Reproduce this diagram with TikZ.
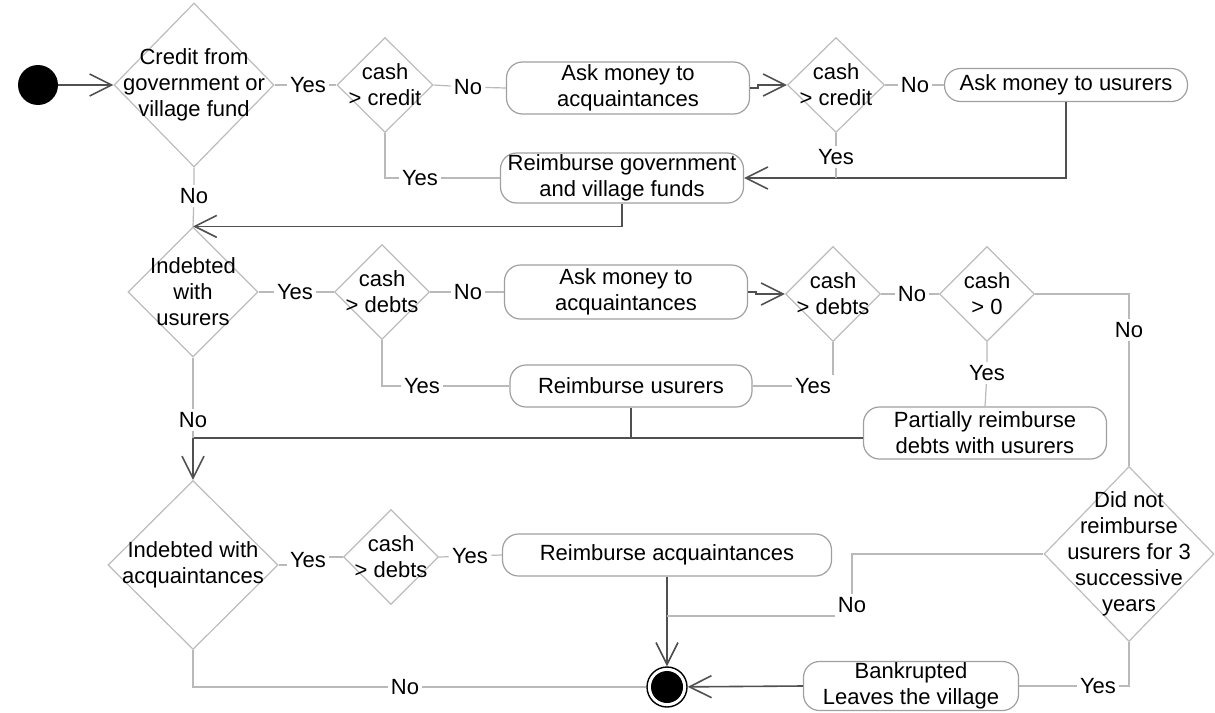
\documentclass[tikz,border=0pt]{standalone}
\usepackage{fontspec}
\setmainfont{Liberation Sans}
\usepackage{tikz}
\usetikzlibrary{shapes.geometric, arrows.meta}
\definecolor{diagray}{RGB}{188,188,188}
\definecolor{boxgray}{RGB}{160,160,160}
\definecolor{linegray}{RGB}{185,185,185}
\definecolor{arrowgray}{RGB}{80,80,80}
\tikzstyle{activity} = [rectangle, rounded corners=8pt, align=center, draw=boxgray, line width=0.6pt, inner sep=0pt]
\tikzstyle{arrow} = [draw=arrowgray, line width=0.8pt, -{Straight Barb[length=11pt,width=11pt]}]
\tikzset{
  decision/.style={diamond, draw=diagray, line width=0.6pt, inner sep=0pt},
  answer/.style={inner sep=1.5pt},
  branch/.style={draw=linegray, line width=0.6pt},
  pathline/.style={draw=arrowgray, line width=0.8pt}
}
\begin{document}
\begin{tikzpicture}[x=0.5pt, y=-0.5pt, font=\fontsize{11}{13}\selectfont]
    \useasboundingbox (0,0) rectangle (1215,712);
    % nodes
    \node (Start) [circle, fill=black, minimum size=20pt, inner sep=0pt] at (38,85) {};
    \node (CreditFund) [decision, minimum width=80pt, minimum height=82pt, label={[align=center]center:Credit from\\government or\\village fund}] at (194,85) {};
    \node (CashCredit1) [decision, minimum width=48pt, minimum height=47.5pt, label={[align=center]center:cash\\> credit}] at (385,85) {};
    \node (AskAcq1) [activity, minimum width=121.5pt, minimum height=26pt] at (628,88) {Ask money to\\acquaintances};
    \node (CashCredit2) [decision, minimum width=48.5pt, minimum height=47.5pt, label={[align=center]center:cash\\> credit}] at (836,85) {};
    \node (AskUsurers) [activity, minimum width=121.5pt, minimum height=16.5pt] at (1066,85) {Ask money to usurers};
    \node (ReimbFunds) [activity, minimum width=121.5pt, minimum height=25pt] at (622,178) {Reimburse government\\and village funds};
    \node (IndebtedUsurers) [decision, minimum width=65pt, minimum height=65pt, label={[align=center]center:Indebted\\with\\usurers}] at (193,292) {};
    \node (CashDebts1) [decision, minimum width=47.5pt, minimum height=47.5pt, label={[align=center]center:cash\\> debts}] at (382,292) {};
    \node (AskAcq2) [activity, minimum width=121.5pt, minimum height=27pt] at (626,292) {Ask money to\\acquaintances};
    \node (CashDebts2) [decision, minimum width=47.5pt, minimum height=47.5pt, label={[align=center]center:cash\\> debts}] at (833,294) {};
    \node (CashZero) [decision, minimum width=47.5pt, minimum height=47.5pt, label={[align=center]center:cash\\> 0}] at (987,294) {};
    \node (ReimbUsurers) [activity, minimum width=121pt, minimum height=21pt] at (631,386) {Reimburse usurers};
    \node (PartialReimb) [activity, minimum width=121.5pt, minimum height=26pt] at (985,433) {Partially reimburse\\debts with usurers};
    \node (IndebtedAcq) [decision, minimum width=85pt, minimum height=84.5pt, label={[align=center]center:Indebted with\\acquaintances}] at (193,565) {};
    \node (CashDebts3) [decision, minimum width=47.5pt, minimum height=47.5pt, label={[align=center]center:cash\\> debts}] at (391,557) {};
    \node (ReimbAcq) [activity, minimum width=164.5pt, minimum height=21pt] at (667,555) {Reimburse acquaintances};
    \node (NoReimb3) [decision, minimum width=85pt, minimum height=87.5pt, label={[align=center]center:Did not\\reimburse\\usurers for 3\\successive\\years}] at (1129,554) {};
    \node (Bankrupt) [activity, minimum width=107.5pt, minimum height=24.5pt] at (911,686) {Bankrupted\\Leaves the village};
    \node (End) [circle, draw=black, line width=0.7pt, minimum size=20pt, inner sep=0pt] at (667,687) {};
    \fill (End.center) circle (8pt);
    % answers
    \node (Yes1) [answer] at (308,85) {Yes};
    \node (No1)  [answer] at (468,87) {No};
    \node (No2)  [answer] at (915,85) {No};
    \node (Yes2) [answer] at (420,178) {Yes};
    \node (Yes3) [answer] at (836,157) {Yes};
    \node (No3)  [answer] at (194,196) {No};
    \node (Yes4) [answer] at (295,292) {Yes};
    \node (No4)  [answer] at (468,292) {No};
    \node (No5)  [answer] at (912,294) {No};
    \node (No6)  [answer] at (1129,330) {No};
    \node (Yes5) [answer] at (422,386) {Yes};
    \node (Yes6) [answer] at (813,386) {Yes};
    \node (Yes7) [answer] at (987,373) {Yes};
    \node (No7)  [answer] at (193,420) {No};
    \node (Yes8) [answer] at (308,560) {Yes};
    \node (Yes9) [answer] at (470,556) {Yes};
    \node (No8)  [answer] at (852,605) {No};
    \node (Yes10) [answer] at (1098,686) {Yes};
    \node (No9)  [answer] at (405,687) {No};
    \coordinate (Merge) at (193,438);
    % arrows
    \draw [arrow] (Start) -- (CreditFund.west);
    \draw [branch] (CreditFund.east) -- (Yes1) -- (CashCredit1.west);
    \draw [branch] (CashCredit1.east) -- (No1) -- (AskAcq1.west);
    \draw [arrow] (AskAcq1.east) -- ++(8,0) |- (CashCredit2.west);
    \draw [branch] (CashCredit2.east) -- (No2) -- (AskUsurers.west);
    \draw [arrow] (AskUsurers.south) |- (ReimbFunds.east);
    \draw [branch] (CashCredit2.south) -- (Yes3) -- (Yes3 |- ReimbFunds.east);
    \draw [branch] (CashCredit1.south) |- (Yes2) -- (ReimbFunds.west);
    \draw [arrow] (ReimbFunds.south) |- (IndebtedUsurers.north);
    \draw [branch] (CreditFund.south) -- (No3) -- (IndebtedUsurers.north);
    \draw [branch] (IndebtedUsurers.east) -- (Yes4) -- (CashDebts1.west);
    \draw [branch] (CashDebts1.east) -- (No4) -- (AskAcq2.west);
    \draw [arrow] (AskAcq2.east) -- ++(8,0) |- (CashDebts2.west);
    \draw [branch] (CashDebts2.east) -- (No5) -- (CashZero.west);
    \draw [branch] (CashZero.east) -| (No6) -- (NoReimb3.north);
    \draw [branch] (CashZero.south) -- (Yes7) -- (PartialReimb.north);
    \draw [branch] (CashDebts2.south) -- (CashDebts2.south |- Yes6.north);
    \draw [branch] (Yes6) -- (ReimbUsurers.east);
    \draw [branch] (CashDebts1.south) |- (Yes5) -- (ReimbUsurers.west);
    \draw [arrow] (ReimbUsurers.south) |- (Merge) -- (IndebtedAcq.north);
    \draw [pathline] (PartialReimb.west |- Merge) -- (ReimbUsurers.south |- Merge);
    \draw [branch] (IndebtedUsurers.south) -- (No7) -- (Merge);
    \draw [branch] (IndebtedAcq.east) -- (IndebtedAcq.east -| Yes8.west);
    \draw [branch] (Yes8.east |- CashDebts3.west) -- (CashDebts3.west);
    \draw [branch] (CashDebts3.east) -- (Yes9) -- (ReimbAcq.west);
    \draw [arrow] (ReimbAcq.south) -- (End);
    \draw [branch] (NoReimb3.west) -| (No8);
    \draw [branch] (No8.south west) -- (No8.south west -| ReimbAcq.south);
    \draw [branch] (NoReimb3.south) |- (Yes10) -- (Bankrupt.east);
    \draw [arrow] (Bankrupt.west) -- (End);
    \draw [branch] (IndebtedAcq.south) |- (No9) -- (End);
\end{tikzpicture}
\end{document}
